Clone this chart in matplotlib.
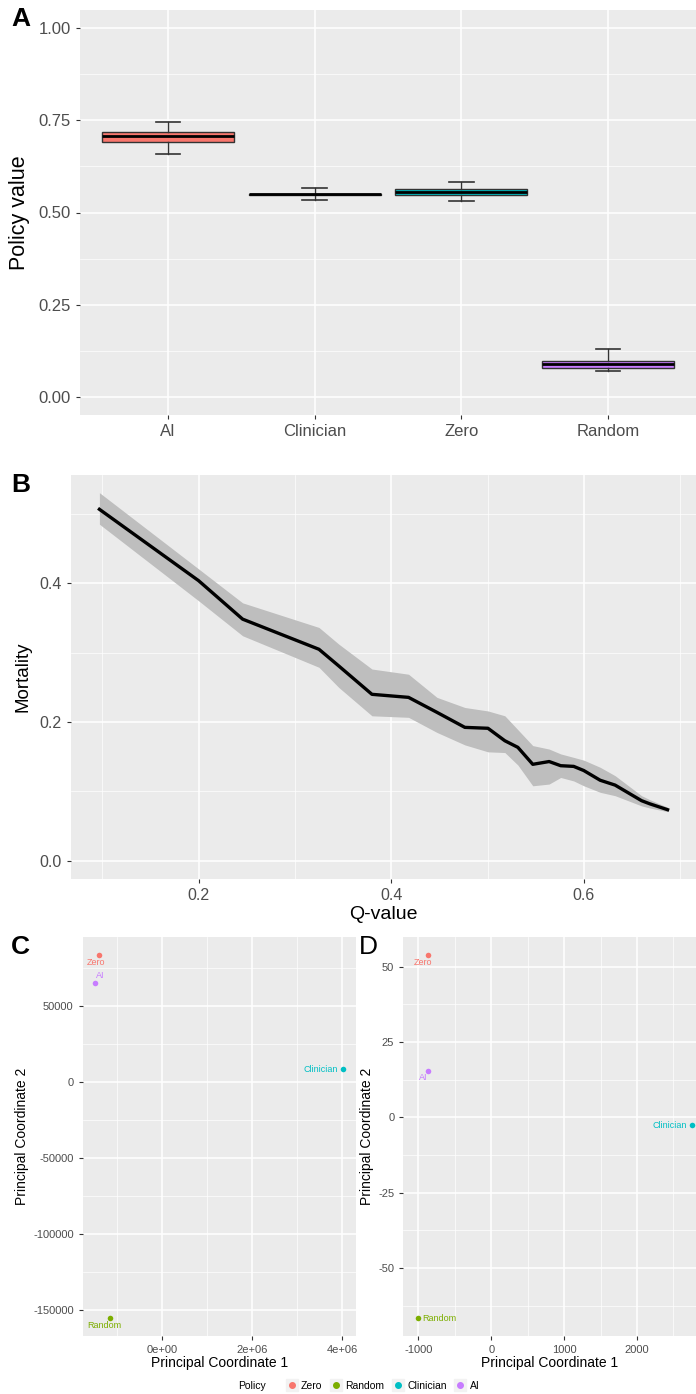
import matplotlib
matplotlib.use("Agg")
import matplotlib.pyplot as plt
from matplotlib.ticker import MultipleLocator, FuncFormatter
from matplotlib.lines import Line2D
from matplotlib.legend_handler import HandlerTuple

plt.rcParams['font.family'] = ['Liberation Sans', 'DejaVu Sans']

# panel A: policy value boxplots
policies = ["AI", "Clinician", "Zero", "Random"]
box_colors = ["#F8766D", "#7CAE00", "#00BFC4", "#C77CFF"]
box_q1 = [0.691, 0.548, 0.548, 0.078]
box_med = [0.7065, 0.549, 0.555, 0.088]
box_q3 = [0.7185, 0.550, 0.5625, 0.0978]
whisk_lo = [0.658, 0.535, 0.532, 0.069]
whisk_hi = [0.747, 0.566, 0.5815, 0.128]

# panel B: mortality vs Q-value with ribbon
q_value = [0.097, 0.2, 0.2457, 0.325, 0.3455, 0.38, 0.418, 0.4475, 0.4765, 0.5005, 0.518,
           0.5315, 0.547, 0.564, 0.576, 0.5895, 0.6, 0.617, 0.6325, 0.66, 0.6685, 0.687]
mortality = [0.507, 0.404, 0.3485, 0.305, 0.281, 0.240, 0.2356, 0.214, 0.1923, 0.191, 0.173,
             0.1635, 0.139, 0.143, 0.137, 0.136, 0.130, 0.116, 0.109, 0.0865, 0.082, 0.0735]
mort_lo = [0.4855, 0.375, 0.3245, 0.279, 0.25, 0.209, 0.2068, 0.185, 0.167, 0.157, 0.156,
           0.138, 0.108, 0.1105, 0.120, 0.115, 0.108, 0.0986, 0.0937, 0.079, 0.076, 0.0707]
mort_hi = [0.531, 0.421, 0.372, 0.3365, 0.3125, 0.2765, 0.269, 0.2356, 0.221, 0.216, 0.209,
           0.189, 0.166, 0.161, 0.154, 0.149, 0.145, 0.1347, 0.1226, 0.0937, 0.088, 0.077]

# panels C and D: principal coordinates
pc_policies = ["Zero", "Random", "Clinician", "AI"]
pc_colors = ["#F8766D", "#7CAE00", "#00BFC4", "#C77CFF"]
c_x = [-1.414e6, -1.17e6, 4.02e6, -1.5e6]
c_y = [83350, -155660, 8350, 65130]
d_x = [-873, -1011, 2758, -868]
d_y = [53.86, -66.7, -2.66, 15.47]

BG = "#EBEBEB"
TXT = "#4D4D4D"
TICK = "#333333"


def gg_style(ax, tick_size):
    ax.set_facecolor(BG)
    for s in ax.spines.values():
        s.set_visible(False)
    ax.grid(True, which='major', color='white', lw=1.1)
    ax.grid(True, which='minor', color='white', lw=0.5)
    ax.set_axisbelow(True)
    ax.tick_params(which='major', length=3, color=TICK, labelcolor=TXT, labelsize=tick_size, width=0.8)
    ax.tick_params(which='minor', length=0)


W, H = 696, 1394
fig = plt.figure(figsize=(W / 100, H / 100), dpi=100)


def add_axes(l, t, r, b):
    return fig.add_axes([l / W, 1 - b / H, (r - l) / W, (b - t) / H])


# ---- A ----
axA = add_axes(80, 10, 696, 415)
gg_style(axA, 12)
stats = []
for i in range(len(policies)):
    stats.append(dict(med=box_med[i], q1=box_q1[i], q3=box_q3[i],
                      whislo=whisk_lo[i], whishi=whisk_hi[i], fliers=[]))
pos = list(range(1, len(policies) + 1))
bp = axA.bxp(stats, positions=pos, widths=0.9, capwidths=0.17, patch_artist=True,
             showfliers=False,
             boxprops=dict(edgecolor=TICK, lw=1.0),
             medianprops=dict(color='black', lw=2.0),
             whiskerprops=dict(color=TICK, lw=1.0),
             capprops=dict(color=TICK, lw=1.2))
for patch, c in zip(bp['boxes'], box_colors):
    patch.set_facecolor(c)
axA.set_xlim(0.4, 4.6)
axA.set_ylim(-0.05, 1.05)
axA.set_xticks(pos)
axA.set_xticklabels(policies)
axA.yaxis.set_major_locator(MultipleLocator(0.25))
axA.yaxis.set_minor_locator(MultipleLocator(0.125))
axA.yaxis.set_major_formatter(FuncFormatter(lambda v, p: f"{v:.2f}"))
axA.set_ylabel("Policy value", fontsize=15.5, labelpad=6)

# ---- B ----
axB = add_axes(71, 475, 696, 879)
gg_style(axB, 11.5)
axB.fill_between(q_value, mort_lo, mort_hi, color='#BEBEBE', lw=0)
axB.plot(q_value, mortality, color='black', lw=2.4)
axB.set_xlim(0.0675, 0.7165)
axB.set_ylim(-0.0265, 0.5565)
axB.xaxis.set_major_locator(MultipleLocator(0.2))
axB.xaxis.set_minor_locator(MultipleLocator(0.1))
axB.yaxis.set_major_locator(MultipleLocator(0.2))
axB.yaxis.set_minor_locator(MultipleLocator(0.1))
axB.xaxis.set_major_formatter(FuncFormatter(lambda v, p: f"{v:.1f}"))
axB.yaxis.set_major_formatter(FuncFormatter(lambda v, p: f"{v:.1f}"))
axB.set_ylabel("Mortality", fontsize=13.5, labelpad=6)
axB.set_xlabel("Q-value", fontsize=14, labelpad=2)


# ---- C / D ----
def pc_panel(ax, xs, ys, offsets, aligns):
    gg_style(ax, 8)
    for i, name in enumerate(pc_policies):
        ax.scatter(xs[i], ys[i], s=16, color=pc_colors[i], zorder=3, lw=0)
        ax.annotate(name, (xs[i], ys[i]), xytext=offsets[i], textcoords='offset pixels',
                    ha=aligns[i], va='center', fontsize=6.5, color=pc_colors[i])
    ax.set_xlabel("Principal Coordinate 1", fontsize=10, labelpad=1)
    ax.set_ylabel("Principal Coordinate 2", fontsize=10, labelpad=3)


axC = add_axes(82.7, 937.3, 356, 1336)
pc_panel(axC, c_x, c_y,
         [(-3, -7), (-5, -7), (-5, 0), (5, 7)],
         ['center', 'center', 'right', 'center'])
axC.set_xlim(-1.769e6, 4.304e6)
axC.set_ylim(-167300, 95000)
axC.xaxis.set_major_locator(MultipleLocator(2e6))
axC.xaxis.set_minor_locator(MultipleLocator(1e6))
axC.yaxis.set_major_locator(MultipleLocator(50000))
axC.yaxis.set_minor_locator(MultipleLocator(25000))
axC.xaxis.set_major_formatter(FuncFormatter(lambda v, p: f"{v:.0e}"))
axC.yaxis.set_major_formatter(FuncFormatter(lambda v, p: f"{v:.0f}"))

axD = add_axes(403.3, 937.3, 696, 1336)
pc_panel(axD, d_x, d_y,
         [(-5, -7), (5, 0), (-5, 0), (-5, -7)],
         ['center', 'left', 'right', 'center'])
axD.set_xlim(-1206, 2809)
axD.set_ylim(-72.6, 59.75)
axD.xaxis.set_major_locator(MultipleLocator(1000))
axD.xaxis.set_minor_locator(MultipleLocator(500))
axD.yaxis.set_major_locator(MultipleLocator(25))
axD.yaxis.set_minor_locator(MultipleLocator(12.5))
axD.xaxis.set_major_formatter(FuncFormatter(lambda v, p: f"{v:.0f}"))
axD.yaxis.set_major_formatter(FuncFormatter(lambda v, p: f"{v:.0f}"))

# legend with small grey key squares like ggplot
handles = []
for c in pc_colors:
    key_bg = Line2D([], [], marker='s', ls='none', color='#F2F2F2', markersize=9)
    dot = Line2D([], [], marker='o', ls='none', color=c, markersize=4)
    handles.append((key_bg, dot))
fig.legend(handles, pc_policies, loc='center', bbox_to_anchor=(383 / W, 1 - 1386 / H),
           ncol=4, frameon=False, fontsize=7.5, handlelength=1.0, handletextpad=0.4,
           columnspacing=0.8, numpoints=1,
           handler_map={tuple: HandlerTuple(ndivide=1, pad=0)})
fig.text(238 / W, 1 - 1386 / H, "Policy", fontsize=7.5, va='center', ha='left')

# panel letters
fig.text(11 / W, 1 - 19 / H, "A", fontsize=19, fontweight='bold', va='center')
fig.text(11 / W, 1 - 485 / H, "B", fontsize=19, fontweight='bold', va='center')
fig.text(11 / W, 1 - 947 / H, "C", fontsize=19, fontweight='bold', va='center')
fig.text(359 / W, 1 - 947 / H, "D", fontsize=19, va='center')

fig.savefig("out.png", dpi=100)
